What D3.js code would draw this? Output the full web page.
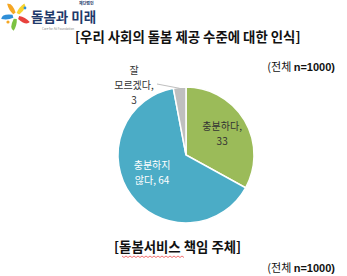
<!DOCTYPE html>
<html>
<head>
<meta charset="utf-8">
<script src="https://cdn.jsdelivr.net/npm/d3@7"></script>
<style>
  html, body { margin: 0; padding: 0; background: #fff; }
  svg { display: block; }
  text { font-family: "Noto Sans CJK KR", "Noto Sans", sans-serif; }
</style>
</head>
<body>
<svg id="chart" width="347" height="276"></svg>
<script>
// Survey: perception of care provision level in our society (n=1000)
const categories = ["충분하다", "충분하지 않다", "잘 모르겠다"];
const values = [33, 64, 3];
const labelLines = [["충분하다,", "33"], ["충분하지", "않다, 64"], ["잘", "모르겠다,", "3"]];
const colors = ["#9bbb59", "#4bacc6", "#bfbfbf"];
const titleText = "[우리 사회의 돌봄 제공 수준에 대한 인식]";
const subTitleText = "[돌봄서비스 책임 주체]";
const sampleNote = ["(전체 ", "n=1000)"];

const svg = d3.select("#chart");

// ---- foundation logo ----
const logo = svg.append("g").attr("transform", "translate(16,16)");
const petals = [
  { a: -40, c: "#f5a623" },
  { a: 30, c: "#f7d32f" },
  { a: 110, c: "#e8413c" },
  { a: 185, c: "#7cc242" },
  { a: 255, c: "#2f8fd8" }
];
petals.forEach(p => {
  logo.append("path")
    .attr("d", "M2,-3 Q6,-13 1,-15 Q-2,-9 -1,-3 Z")
    .attr("fill", p.c)
    .attr("transform", `rotate(${p.a})`);
});
logo.append("circle").attr("cx", -8).attr("cy", 6).attr("r", 1.6).attr("fill", "#f5a623");
logo.append("circle").attr("cx", 9).attr("cy", -8).attr("r", 1.4).attr("fill", "#2f8fd8");

svg.append("text").attr("x", 31).attr("y", 22)
  .attr("font-size", 13.5).attr("font-weight", 700).attr("fill", "#1f3a6b")
  .text("돌봄과 미래");
svg.append("text").attr("x", 79).attr("y", 5)
  .attr("font-size", 4).attr("font-weight", 700).attr("fill", "#1f3a6b")
  .text("재단법인");
svg.append("text").attr("x", 42).attr("y", 29.5)
  .attr("font-size", 3).attr("fill", "#888")
  .attr("font-family", "Liberation Sans, Arial, sans-serif")
  .text("Care for All Foundation");

// ---- titles ----
svg.append("text").attr("x", 75).attr("y", 42)
  .attr("font-size", 13.4).attr("font-weight", 700).attr("fill", "#111")
  .text(titleText);

function note(y) {
  const t = svg.append("text").attr("x", 335).attr("y", y)
    .attr("text-anchor", "end").attr("font-size", 11).attr("fill", "#111");
  t.append("tspan").text(sampleNote[0]);
  t.append("tspan").attr("font-family", "Liberation Sans, Arial, sans-serif")
    .attr("font-weight", 700).text(sampleNote[1]);
}
note(71);
note(272);

// ---- pie ----
const cx = 186, cy = 155, R = 68;
const pie = d3.pie().sort(null).value(d => d)(values);
const arc = d3.arc().innerRadius(0).outerRadius(R);
const g = svg.append("g").attr("transform", `translate(${cx},${cy})`);

g.selectAll("path.slice").data(pie).join("path")
  .attr("class", "slice")
  .attr("d", arc)
  .attr("fill", (d, i) => colors[i])
  .attr("stroke", "#fff").attr("stroke-width", 1.5);

// inside labels
const inner = [
  { r: 42, da: 0, fill: "#333" },
  { r: 38, da: 0.16, fill: "#fff" }
];
inner.forEach((o, i) => {
  const d = pie[i];
  const a = (d.startAngle + d.endAngle) / 2 + o.da;
  const x = Math.sin(a) * o.r, y = -Math.cos(a) * o.r;
  const lines = labelLines[i];
  const t = g.append("text").attr("text-anchor", "middle")
    .attr("font-size", 10).attr("fill", o.fill);
  lines.forEach((s, k) => {
    t.append("tspan").attr("x", x)
      .attr("y", y + (k - (lines.length - 1) / 2) * 15 + 4)
      .text(s);
  });
});

// outside label for the small slice with leader line
{
  const d = pie[2];
  const a = (d.startAngle + d.endAngle) / 2;
  const px = Math.sin(a) * R, py = -Math.cos(a) * R;
  const lx = -52, ly = -70;
  g.append("line")
    .attr("x1", px).attr("y1", py + 1)
    .attr("x2", -29).attr("y2", -71)
    .attr("stroke", "#bfbfbf").attr("stroke-width", 1);
  const t = g.append("text").attr("text-anchor", "middle")
    .attr("font-size", 10).attr("fill", "#333");
  labelLines[2].forEach((s, k) => {
    t.append("tspan").attr("x", lx).attr("y", ly + (k - 1) * 15 + 4).text(s);
  });
}

// ---- second section heading ----
svg.append("text").attr("x", 114).attr("y", 252)
  .attr("font-size", 13.4).attr("font-weight", 700).attr("fill", "#111")
  .text(subTitleText);

// spell-check style squiggle under the first word
{
  const x0 = 122, x1 = 184, yy = 256;
  let dPath = `M${x0},${yy}`;
  for (let x = x0, k = 0; x < x1; x += 2, k++) {
    dPath += ` L${x + 2},${yy + (k % 2 ? 0 : 1.5)}`;
  }
  svg.append("path").attr("d", dPath).attr("fill", "none")
    .attr("stroke", "#e33").attr("stroke-width", 0.7);
}
</script>
</body>
</html>
